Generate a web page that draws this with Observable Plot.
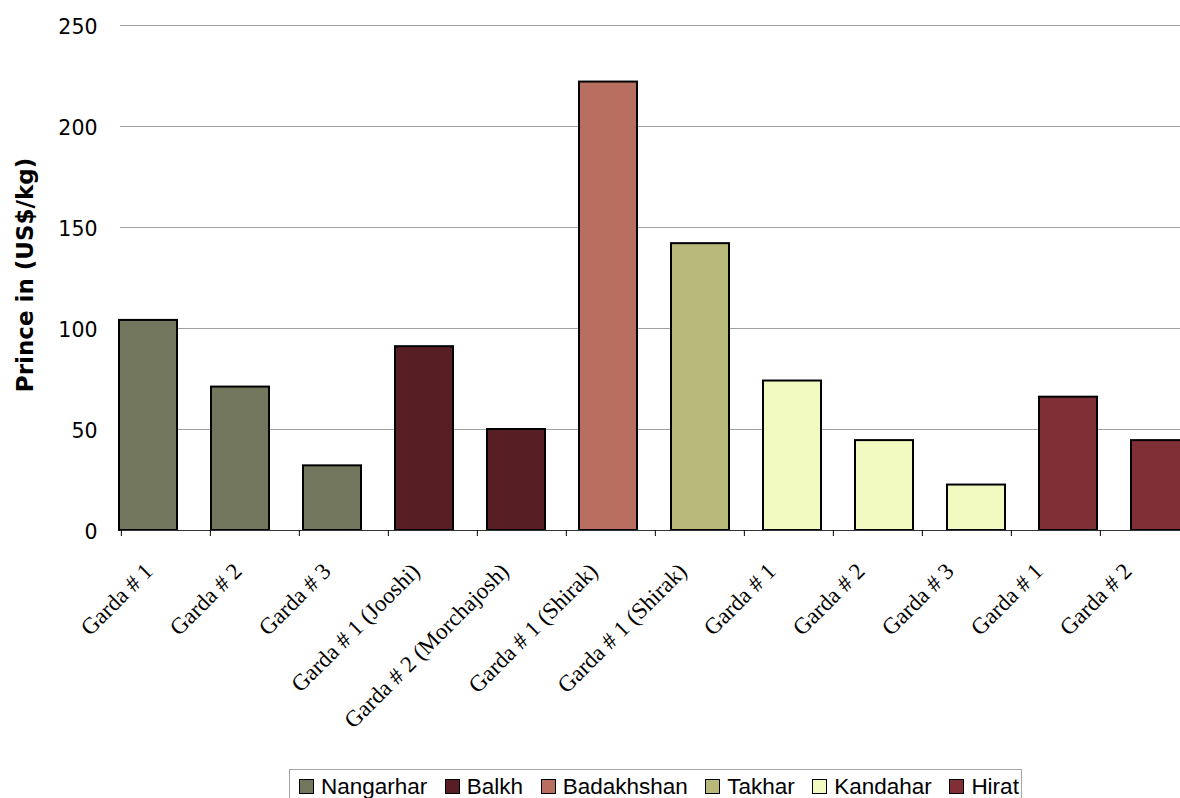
<!DOCTYPE html>
<html>
<head>
<meta charset="utf-8">
<script src="https://cdn.jsdelivr.net/npm/d3@7"></script>
<script src="https://cdn.jsdelivr.net/npm/@observablehq/plot@0.6"></script>
<style>
  html, body { margin: 0; padding: 0; background: #fff; overflow: hidden; width: 1180px; height: 798px; }
  #wrap { position: relative; width: 1180px; height: 798px; }
  #wrap svg { position: absolute; left: 0; top: 0; overflow: hidden; }
  #legend { position: absolute; left: 289px; top: 769px; width: 733px; height: 40px; box-sizing: border-box;
            border: 1px solid #a6a6a6; background: #fff; display: flex; align-items: flex-start;
            padding: 4px 0 0 9px; font-family: "Liberation Sans", Arial, sans-serif; font-size: 22.5px; line-height: 1.149; color: #000; }
  .item { display: flex; align-items: flex-start; margin-right: 17.5px; white-space: nowrap; }
  .sw { width: 13px; height: 13px; border: 1.5px solid #000; margin: 5px 7px 0 0; flex: none; }
</style>
</head>
<body>
<div id="wrap"></div>
<script>
// ---- data ----
const sites = ["Garda # 1", "Garda # 2", "Garda # 3", "Garda # 1 (Jooshi)", "Garda # 2 (Morchajosh)",
               "Garda # 1 (Shirak)", "Garda # 1 (Shirak)", "Garda # 1", "Garda # 2", "Garda # 3",
               "Garda # 1", "Garda # 2"];
const regions = ["Nangarhar", "Nangarhar", "Nangarhar", "Balkh", "Balkh", "Badakhshan", "Takhar",
                 "Kandahar", "Kandahar", "Kandahar", "Hirat", "Hirat"];
const prices = [104, 71, 32, 91, 50, 222, 142, 74, 44.5, 22.5, 66, 44.5];
const legendRegions = ["Nangarhar", "Balkh", "Badakhshan", "Takhar", "Kandahar", "Hirat"];
const regionColors = ["#72765c", "#571f23", "#b86f60", "#b8b87a", "#f2f9c1", "#7f2f35"];
const yTicks = [0, 50, 100, 150, 200, 250];
const yLabel = "Prince in (US$/kg)";

const rows = sites.map((s, i) => ({i, site: s, region: regions[i], price: prices[i]}));
const ids = rows.map(d => d.i);

const W = 1180, H = 765, ML = 120, MR = 0, MT = 25, MB = 235;

// ---- bars, grid, y axis ----
const main = Plot.plot({
  width: W, height: H,
  marginLeft: ML, marginRight: MR, marginTop: MT, marginBottom: MB,
  style: {background: "transparent"},
  x: {type: "band", domain: ids, range: [116.2, 1192.6], paddingInner: 0.369, paddingOuter: 0, axis: null},
  y: {domain: [0, 250], axis: null},
  color: {domain: legendRegions, range: regionColors},
  marks: [
    Plot.gridY(yTicks.filter(t => t > 0), {stroke: "#a0a0a0", strokeOpacity: 1, strokeWidth: 1}),
    Plot.axisY(yTicks, {tickSize: 0, tickPadding: 23, dy: 2, fontSize: 20.5, fontFamily: "DejaVu Sans", fill: "#000", label: null}),
    Plot.barY(rows, {x: "i", y: "price", fill: "region", stroke: "#000", strokeWidth: 2}),
    Plot.ruleY([0], {stroke: "#333", strokeWidth: 1}),
    Plot.text([yLabel], {frameAnchor: "left", textAnchor: "middle", rotate: -90, dx: -95, dy: -3, fontSize: 23, fontWeight: "bold",
                         fontFamily: "DejaVu Sans", fill: "#000"})
  ]
});

// ---- category axis (ticks between categories, rotated labels) ----
const axis = Plot.plot({
  width: W, height: H,
  marginLeft: ML, marginRight: MR, marginTop: MT, marginBottom: MB,
  style: {background: "transparent"},
  x: {type: "band", domain: ids, range: [119.3, 1190.9], padding: 0, axis: null},
  marks: [
    Plot.axisX(ids, {tickSize: 6, dx: -44.65, tickFormat: () => "", stroke: "#000"}),
    Plot.axisX(ids, {tickSize: 0, tickPadding: 37, dx: -17, tickRotate: -45, textAnchor: "end", lineAnchor: "middle",
                     tickFormat: i => sites[i], fontSize: 23, fontFamily: "Liberation Serif", fill: "#000", label: null})
  ]
});

const wrap = document.getElementById("wrap");
wrap.appendChild(main);
wrap.appendChild(axis);

// ---- legend ----
const legend = document.createElement("div");
legend.id = "legend";
legendRegions.forEach((r, k) => {
  const item = document.createElement("div");
  item.className = "item";
  const sw = document.createElement("span");
  sw.className = "sw";
  sw.style.background = regionColors[k];
  const t = document.createElement("span");
  t.textContent = r;
  item.appendChild(sw);
  item.appendChild(t);
  legend.appendChild(item);
});
wrap.appendChild(legend);
</script>
</body>
</html>
